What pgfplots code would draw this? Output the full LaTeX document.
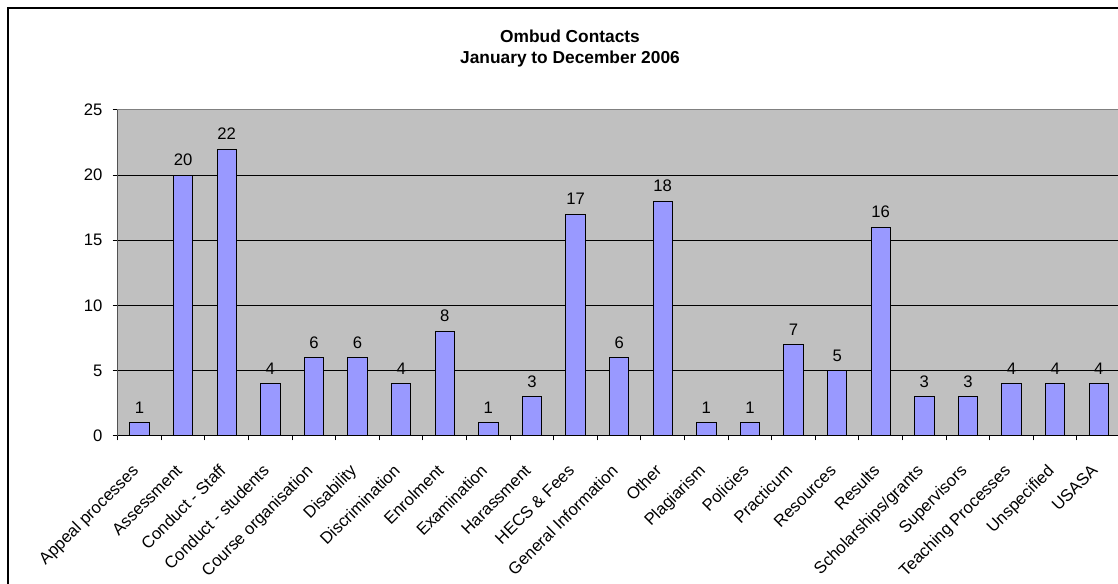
\documentclass[border=0pt]{standalone}
\usepackage{fontspec}
\setmainfont{Liberation Sans}
\usepackage{pgfplots}
\pgfplotsset{compat=1.18}
\definecolor{barfill}{HTML}{9999FF}
\definecolor{plotbg}{HTML}{C0C0C0}
\definecolor{plotborder}{HTML}{808080}
\begin{document}
\begin{tikzpicture}
\useasboundingbox (0,0) rectangle (838.5pt,438pt);
\clip (0,0) rectangle (838.5pt,438pt);
\draw[line width=1.1pt] (6pt,-30pt) rectangle (870pt,432pt);
\node[font=\fontsize{13}{15}\selectfont\bfseries, anchor=base] at (427.5pt,405.75pt) {Ombud Contacts};
\node[font=\fontsize{13}{15}\selectfont\bfseries, anchor=base] at (427.5pt,390pt) {January to December 2006};
\begin{axis}[
  at={(88.3pt,111.4pt)}, anchor=south west,
  scale only axis, width=752.1pt, height=244.1pt,
  xmin=-0.5, xmax=22.5, ymin=0, ymax=25,
  ytick={0,5,...,25},
  xtick={0,...,22},
  minor xtick={-0.5,0.5,...,22.5},
  xticklabels={Appeal processes,Assessment,Conduct - Staff,Conduct - students,Course organisation,Disability,Discrimination,Enrolment,Examination,Harassment,HECS \& Fees,General Information,Other,Plagiarism,Policies,Practicum,Resources,Results,Scholarships/grants,Supervisors,Teaching Processes,Unspecified,USASA},
  tick pos=left, tick align=outside,
  major tick length=3.75pt, minor tick length=3.75pt,
  major x tick style={draw=none},
  minor x tick style={black, line width=0.75pt},
  major y tick style={black, line width=0.75pt},
  axis line style={plotborder, line width=0.75pt},
  axis background/.style={fill=plotbg},
  ymajorgrids, grid style={black, line width=0.75pt},
  /pgf/number format/assume math mode=true,
  tick label style={font=\fontsize{12.5}{14}\selectfont},
  yticklabel style={anchor=east, inner sep=0pt, xshift=-7.5pt},
  xticklabel style={yshift=-23.5pt, rotate=45, anchor=base east, inner sep=0pt},
  ybar, bar width=14.5pt, bar shift=0pt,
  nodes near coords,
  every node near coord/.append style={font=\fontsize{12.5}{14}\selectfont, anchor=south, inner sep=0pt, yshift=6.5pt, /pgf/number format/assume math mode=true},
]
\addplot[fill=barfill, draw=black, line width=0.75pt] coordinates {
(0,1) (1,20) (2,22) (3,4) (4,6) (5,6) (6,4) (7,8) (8,1) (9,3) (10,17) (11,6) (12,18) (13,1) (14,1) (15,7) (16,5) (17,16) (18,3) (19,3) (20,4) (21,4) (22,4)};
\draw[black, line width=0.75pt] (axis cs:-0.5,25) -- (axis cs:-0.5,0) -- (axis cs:22.5,0);
\end{axis}
\end{tikzpicture}
\end{document}
